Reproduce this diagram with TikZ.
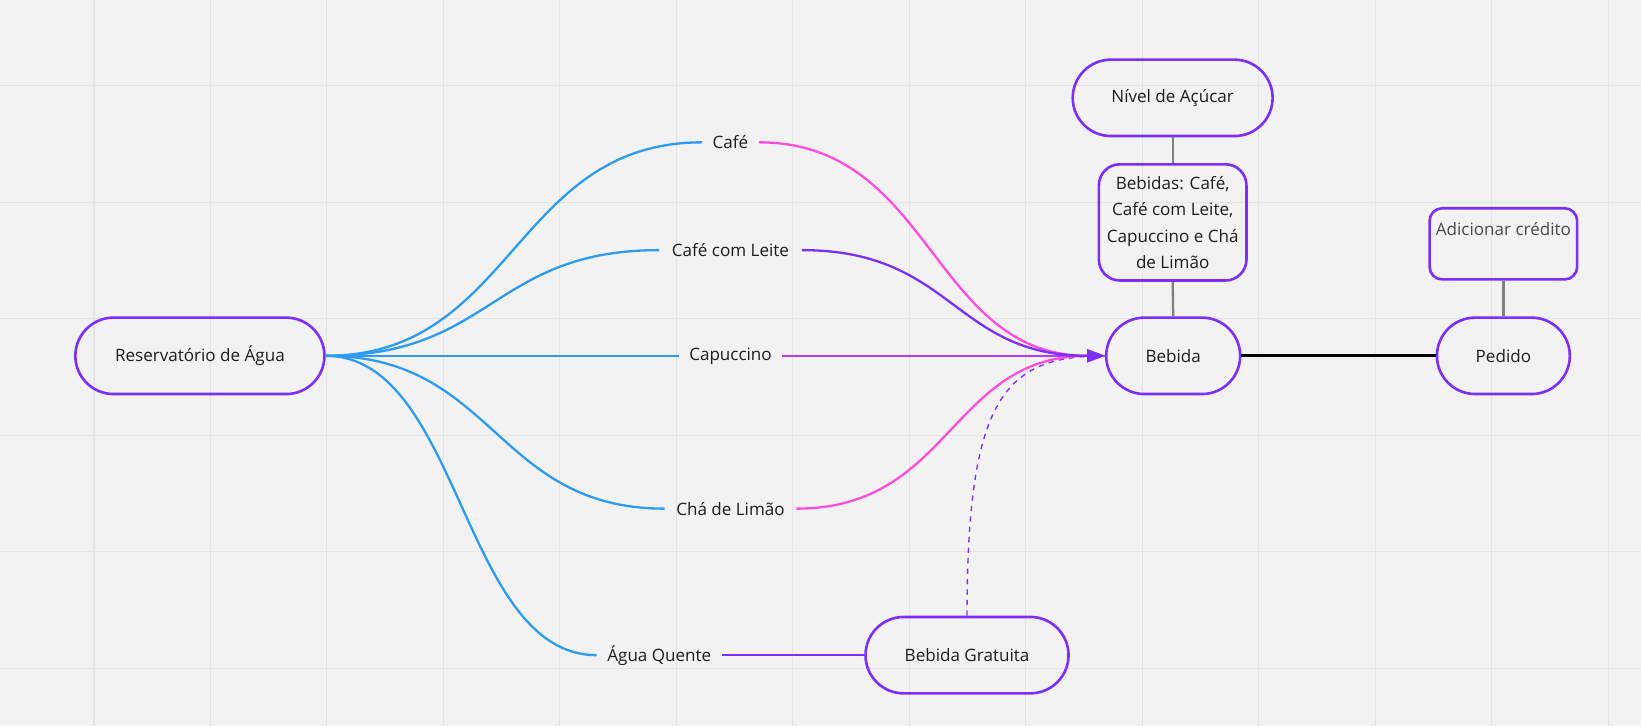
\documentclass[tikz,border=0pt]{standalone}
\usepackage{fontspec}
\setmainfont{Open Sans}
\usetikzlibrary{arrows.meta}
\definecolor{bg}{HTML}{F2F2F2}
\definecolor{gridc}{HTML}{E4E4E4}
\definecolor{nodeborder}{HTML}{7B2FF7}
\definecolor{bluec}{HTML}{2D9BF0}
\definecolor{pinkc}{HTML}{FF4DDB}
\definecolor{magc}{HTML}{B43CF5}
\definecolor{purc}{HTML}{7B2FF7}
\definecolor{txt}{HTML}{1E1E1E}
\definecolor{greytxt}{HTML}{4A4A4A}
\definecolor{stem}{HTML}{808080}
\tikzset{
  basefont/.style={font=\fontsize{16.3}{25.3}\selectfont, text=txt},
  pill/.style={basefont, draw=nodeborder, line width=2.5pt, rounded corners=36.5pt,
    minimum height=73pt, inner sep=0pt},
  roundbox/.style={basefont, draw=nodeborder, line width=2.5pt, rounded corners=#1,
    inner sep=0pt},
  lbl/.style={basefont, inner xsep=10pt, inner ysep=4pt},
  blueline/.style={draw=bluec, line width=2.2pt},
  tip/.style={-{Triangle[length=17pt,width=12pt]}},
  stemline/.style={draw=stem, line width=2.2pt},
}
\begin{document}
\begin{tikzpicture}[x=1pt,y=-1pt]
\fill[bg] (0,0) rectangle (1568,694);
\useasboundingbox (0,0) rectangle (1568,694);
\foreach \i in {0,...,13} \draw[gridc, line width=1pt] ({89.8+111.3*\i},0) -- ++(0,694);
\foreach \j in {0,...,5} \draw[gridc, line width=1pt] (0,{82+111.3*\j}) -- ++(1568,0);

% nodes
\node[pill, minimum width=238pt] (res) at (191,340) {Reservatório de Água};
\node[pill, minimum width=191pt] (nivel) at (1120.5,93.5) {Nível de Açúcar};
\node[roundbox=20pt, minimum width=141pt, minimum height=111pt, align=center] (bebidas) at (1120.5,212.5)
  {Bebidas: Café,\\Café com Leite,\\Capuccino e Chá\\de Limão};
\node[roundbox=12pt, minimum width=141pt, minimum height=68pt,
  label={[basefont, text=greytxt, yshift=-21pt, anchor=center]north:Adicionar crédito}] (cred) at (1436.5,233) {};
\node[pill, minimum width=128pt] (bebida) at (1121,340) {Bebida};
\node[pill, minimum width=127pt] (pedido) at (1436.5,340) {Pedido};
\node[pill, minimum width=194pt] (gratuita) at (924,626) {Bebida Gratuita};

\node[lbl] (cafe) at (698,136) {Café};
\node[lbl, inner xsep=12pt] (leite) at (698,239) {Café com Leite};
\node[lbl] (capu) at (698,340) {Capuccino};
\node[lbl, inner xsep=11pt] (cha) at (698,486) {Chá de Limão};
\node[lbl] (agua) at (630,626) {Água Quente};

% left blue connectors
\draw[blueline] (res.east) .. controls +(180,0) and +(-180,0) .. (cafe.west);
\draw[blueline] (res.east) .. controls +(160,0) and +(-160,0) .. (leite.west);
\draw[blueline] (res.east) -- (capu.west);
\draw[blueline] (res.east) .. controls +(162,0) and +(-162,0) .. (cha.west);
\draw[blueline] (res.east) .. controls +(129,0) and +(-129,0) .. (agua.west);

% dashed
\draw[purc, line width=1.3pt, dash pattern=on 5pt off 5pt] (gratuita.north) .. controls +(0,-210) and +(-95,0) .. (bebida.west);

% right connectors
\draw[pinkc, line width=2.2pt, tip] (cafe.east) .. controls +(166,0) and +(-166,0) .. (bebida.west);
\draw[pinkc, line width=2.2pt, tip] (cha.east) .. controls +(148,0) and +(-148,0) .. (bebida.west);
\draw[magc, line width=2.2pt, tip] (capu.east) -- (bebida.west);
\draw[purc, line width=2.2pt, tip] (leite.east) .. controls +(145,0) and +(-145,0) .. (bebida.west);

\draw[purc, line width=2.2pt] (agua.east) -- (gratuita.west);
\draw[black, line width=2.8pt] (bebida.east) -- (pedido.west);
\draw[stemline] (nivel.south) -- (bebidas.north);
\draw[stemline] (bebidas.south) -- (bebida.north);
\draw[stemline] (cred.south) -- (pedido.north);
\end{tikzpicture}
\end{document}
